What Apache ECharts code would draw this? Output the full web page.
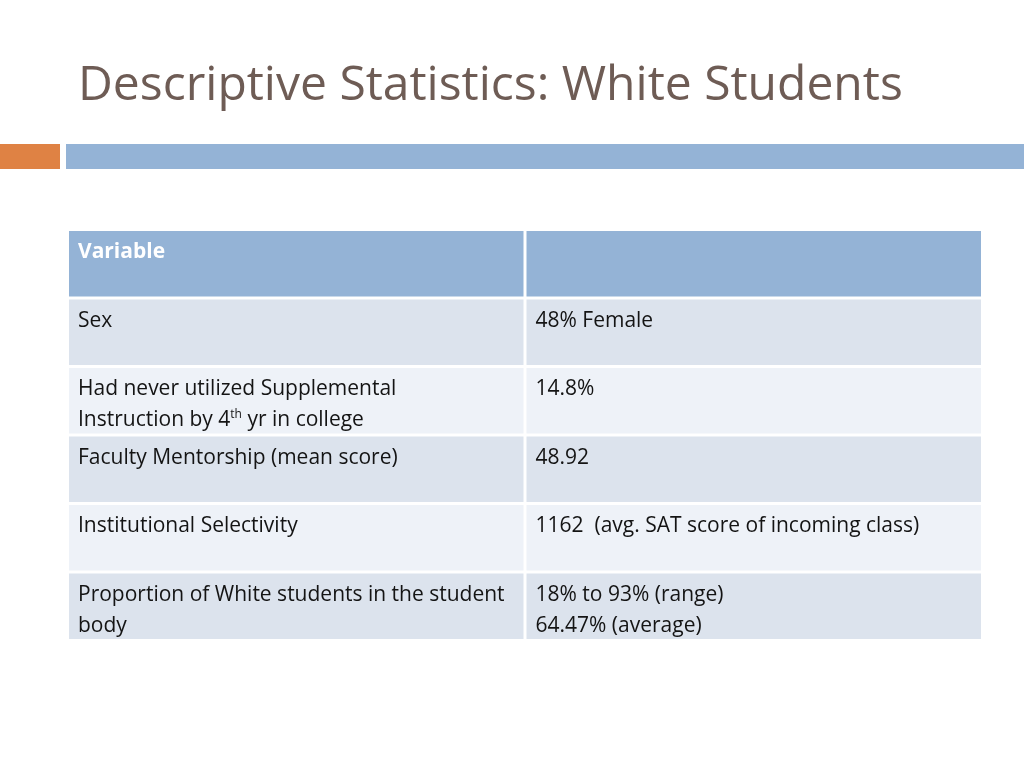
<!DOCTYPE html>
<html><head><meta charset="utf-8">
<script src="https://cdn.jsdelivr.net/npm/echarts@6/dist/echarts.min.js"></script>
<style>html,body{margin:0;padding:0;background:#fff}#c{width:1024px;height:768px}</style>
</head><body><div id="c"></div>
<script>
// ---- data ----
const titleText = 'Descriptive Statistics: White Students';
const headerLabels = ['Variable', ''];
const variables = [
  'Sex',
  'Had never utilized Supplemental\nInstruction by 4{sup|th} yr in college',
  'Faculty Mentorship (mean score)',
  'Institutional Selectivity',
  'Proportion of White students in the student\nbody'
];
const values = [
  '48% Female',
  '14.8%',
  '48.92',
  '1162  (avg. SAT score of incoming class)',
  '18% to 93% (range)\n64.47% (average)'
];

// ---- build table ----
const rowCats = ['header'].concat(variables.map((v, i) => 'r' + i));
const colCats = ['c0', 'c1'];
const cellText = [headerLabels].concat(variables.map((v, i) => [v, values[i]]));
const cells = [];
for (let r = 0; r < cellText.length; r++) for (let c = 0; c < 2; c++) cells.push([c, r]);

const HEADER = '#94b3d6', DARK = '#dce3ed', LIGHT = '#eef2f8';
const FONT = 'Open Sans';

function renderItem(params, api) {
  const c = api.value(0), r = api.value(1);
  const ctr = api.coord([c, r]);
  const sz = api.size([1, 1]);
  const w = sz[0], h = sz[1];
  const x0 = ctr[0] - w / 2, y0 = ctr[1] - h / 2;
  const fill = r === 0 ? HEADER : (r % 2 === 1 ? DARK : LIGHT);
  const isHead = r === 0;
  return {
    type: 'group',
    children: [
      { type: 'rect', shape: { x: x0 + 1.5, y: y0 + 1.5, width: w - 3, height: h - 3 }, style: { fill: fill } },
      { type: 'text', style: {
          x: x0 + 10.5, y: y0 + 7.5,
          text: cellText[r][c],
          fontFamily: FONT, fontSize: 21, lineHeight: 31,
          fontWeight: isHead ? 'bold' : 'normal',
          fill: isHead ? '#ffffff' : '#141414',
          align: 'left', verticalAlign: 'top',
          rich: { sup: { fontSize: 12, fontFamily: FONT, fill: '#141414', verticalAlign: 'top', padding: [4, 0, 0, 0] } }
      } }
    ]
  };
}

const chart = echarts.init(document.getElementById('c'));
chart.setOption({
  animation: false,
  title: { text: titleText, left: 73, top: 57,
    textStyle: { fontFamily: FONT, fontSize: 48, fontWeight: 'normal', color: '#6e5c55' } },
  graphic: [
    { type: 'rect', shape: { x: 0, y: 144, width: 60, height: 25 }, style: { fill: '#df8244' } },
    { type: 'rect', shape: { x: 66, y: 144, width: 958, height: 25 }, style: { fill: '#94b3d6' } }
  ],
  grid: { left: 67.5, right: 41.5, top: 229.5, height: 411 },
  xAxis: { type: 'category', data: colCats, show: false },
  yAxis: { type: 'category', data: rowCats, inverse: true, show: false },
  series: [{ type: 'custom', renderItem: renderItem, data: cells, silent: true }]
});
</script></body></html>
